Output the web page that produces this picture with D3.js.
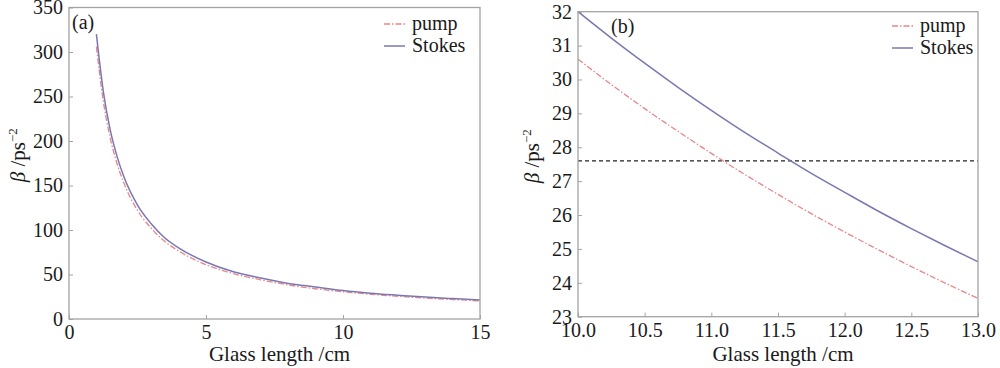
<!DOCTYPE html>
<html>
<head>
<meta charset="utf-8">
<script src="https://cdn.jsdelivr.net/npm/d3@7"></script>
<style>
  body { margin: 0; background: #fff; }
  svg { display: block; }
  text { font-family: "Liberation Serif", "DejaVu Serif", serif; fill: #1a1a1a; }
</style>
</head>
<body>
<svg id="chart" width="1000" height="368"></svg>
<script>
// panel (a): full range
const lenA = [1, 1.25, 1.5, 1.75, 2, 2.5, 3, 3.5, 4, 5, 6, 7, 8, 9, 10, 11, 12, 13, 14, 15];
const stokesA = [320, 256, 213, 183, 160, 128, 107, 91, 80, 64, 53, 46, 40, 36, 32, 29, 26.7, 24.6, 22.9, 21.3];
const pumpA = [306, 245, 204, 175, 153, 122, 102, 87, 76.5, 61, 51, 44, 38.3, 34, 30.6, 27.8, 25.5, 23.5, 21.9, 20.4];

// panel (b): zoom 10-13 cm
const lenB = [10, 10.25, 10.5, 10.75, 11, 11.25, 11.5, 11.75, 12, 12.25, 12.5, 12.75, 13];
const stokesB = [32.0, 31.22, 30.48, 29.77, 29.09, 28.44, 27.83, 27.23, 26.67, 26.12, 25.6, 25.1, 24.62];
const pumpB = [30.6, 29.85, 29.14, 28.47, 27.82, 27.2, 26.61, 26.04, 25.5, 24.98, 24.48, 24.0, 23.54];
const thresholdB = 27.6;

const ticksAx = [0, 5, 10, 15];
const ticksAy = [0, 50, 100, 150, 200, 250, 300, 350];
const ticksBx = [10, 10.5, 11, 11.5, 12, 12.5, 13];
const ticksBy = [23, 24, 25, 26, 27, 28, 29, 30, 31, 32];

const pumpColor = "#e8868a";
const stokesColor = "#7a78b2";
const frameColor = "#a3a3a3";
const fs = 20;

const svg = d3.select("#chart");

function panel(opt) {
    const x = d3.scaleLinear().domain(opt.xDomain).range([opt.left, opt.right]);
    const y = d3.scaleLinear().domain(opt.yDomain).range([opt.bottom, opt.top]);
    const g = svg.append("g");

    // axes with inward ticks
    g.append("g")
        .attr("transform", `translate(0,${opt.bottom})`)
        .call(d3.axisBottom(x).tickValues(opt.xTicks).tickSize(-4).tickPadding(6).tickFormat(opt.xFmt))
        .call(s => s.select(".domain").remove())
        .call(s => s.selectAll("line").attr("stroke", frameColor))
        .call(s => s.selectAll("text").attr("font-size", fs).attr("font-family", "Liberation Serif").attr("fill", "#1a1a1a"));

    g.append("g")
        .attr("transform", `translate(${opt.left},0)`)
        .call(d3.axisLeft(y).tickValues(opt.yTicks).tickSize(-4).tickPadding(6))
        .call(s => s.select(".domain").remove())
        .call(s => s.selectAll("line").attr("stroke", frameColor))
        .call(s => s.selectAll("text").attr("font-size", fs).attr("font-family", "Liberation Serif").attr("fill", "#1a1a1a"));

    const line = d3.line()
        .x(d => x(d[0]))
        .y(d => y(d[1]))
        .curve(d3.curveMonotoneX);

    if (opt.threshold !== undefined) {
        g.append("line")
            .attr("x1", opt.left).attr("x2", opt.right)
            .attr("y1", y(opt.threshold)).attr("y2", y(opt.threshold))
            .attr("stroke", "#222").attr("stroke-width", 1.2)
            .attr("stroke-dasharray", "4,3");
    }

    g.append("path")
        .attr("d", line(opt.len.map((l, i) => [l, opt.pump[i]])))
        .attr("fill", "none").attr("stroke", pumpColor).attr("stroke-width", 1.3)
        .attr("stroke-dasharray", "6,2,1.5,2");

    g.append("path")
        .attr("d", line(opt.len.map((l, i) => [l, opt.stokes[i]])))
        .attr("fill", "none").attr("stroke", stokesColor).attr("stroke-width", 1.5);

    // frame
    g.append("rect")
        .attr("x", opt.left).attr("y", opt.top)
        .attr("width", opt.right - opt.left).attr("height", opt.bottom - opt.top)
        .attr("fill", "none").attr("stroke", frameColor).attr("stroke-width", 1.3);

    g.append("text")
        .attr("x", opt.labelX).attr("y", opt.labelY)
        .attr("font-size", fs).text(opt.label);

    // legend
    const lg = g.append("g").attr("transform", `translate(${opt.legX},${opt.legY})`);
    lg.append("line").attr("x1", 0).attr("x2", 21).attr("y1", 0).attr("y2", 0)
        .attr("stroke", pumpColor).attr("stroke-width", 1.3).attr("stroke-dasharray", "6,2,1.5,2");
    lg.append("text").attr("x", 28).attr("y", 0).attr("dy", "0.3em").attr("font-size", 20).text("pump");
    lg.append("line").attr("x1", 0).attr("x2", 21).attr("y1", 22).attr("y2", 22)
        .attr("stroke", stokesColor).attr("stroke-width", 1.5);
    lg.append("text").attr("x", 28).attr("y", 22).attr("dy", "0.3em").attr("font-size", 20).text("Stokes");

    // axis titles
    g.append("text")
        .attr("x", (opt.left + opt.right) / 2 + 5).attr("y", opt.titleY)
        .attr("text-anchor", "middle").attr("font-size", 21)
        .text("Glass length /cm");

    const yl = g.append("text")
        .attr("transform", `translate(${opt.yTitleX},${(opt.top + opt.bottom) / 2 - 8}) rotate(-90)`)
        .attr("text-anchor", "middle").attr("font-size", 21);
    yl.append("tspan").attr("font-style", "italic").text("β");
    yl.append("tspan").text(" /ps");
    yl.append("tspan").attr("dy", -8).attr("font-size", 13).text("−2");
}

panel({
    xDomain: [0, 15], yDomain: [0, 350],
    left: 69, right: 480, top: 7.5, bottom: 319,
    xTicks: ticksAx, yTicks: ticksAy, xFmt: d3.format("d"),
    len: lenA, pump: pumpA, stokes: stokesA,
    label: "(a)", labelX: 72, labelY: 29,
    legX: 384, legY: 24,
    yTitleX: 25, titleY: 361
});

panel({
    xDomain: [10, 13], yDomain: [23, 32],
    left: 578, right: 978, top: 11.7, bottom: 316.7,
    xTicks: ticksBx, yTicks: ticksBy, xFmt: d3.format(".1f"),
    len: lenB, pump: pumpB, stokes: stokesB, threshold: thresholdB,
    label: "(b)", labelX: 611, labelY: 33,
    legX: 892, legY: 26,
    yTitleX: 539, titleY: 361
});
</script>
</body>
</html>
